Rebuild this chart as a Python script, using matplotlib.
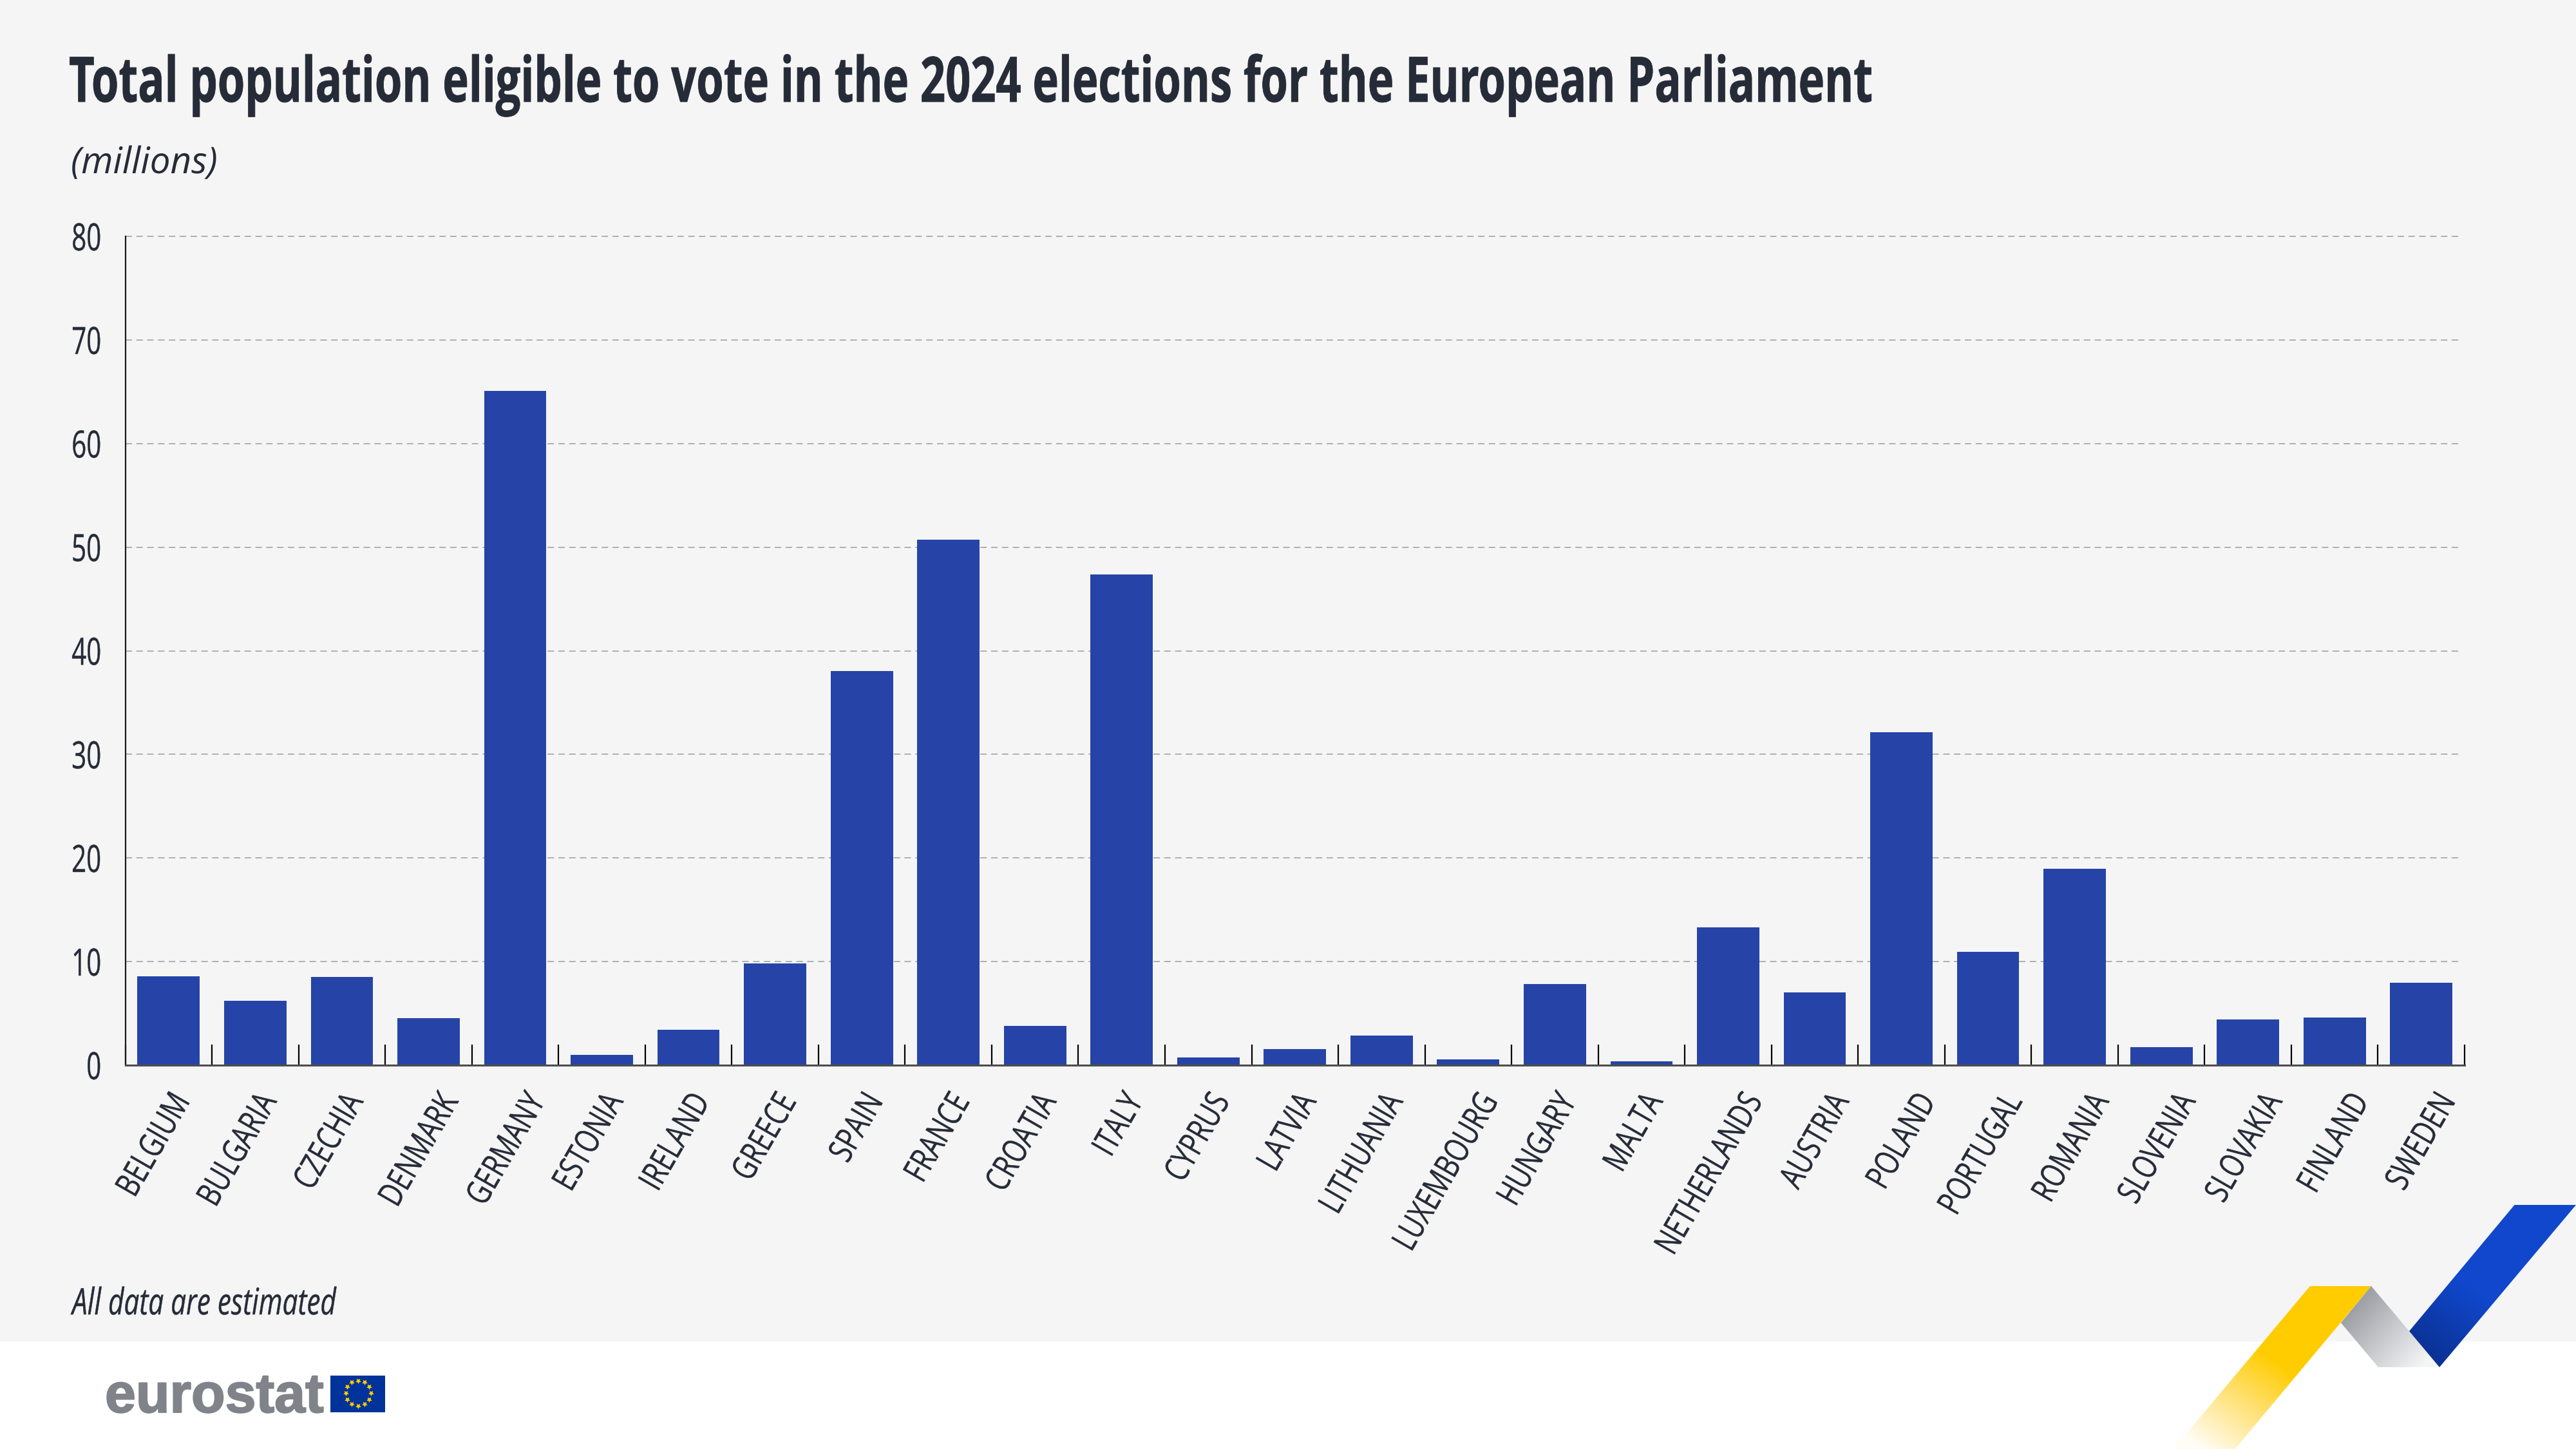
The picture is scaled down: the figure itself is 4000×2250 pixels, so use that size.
import numpy as np
import matplotlib
matplotlib.use("Agg")
import matplotlib.pyplot as plt
from matplotlib.patches import Polygon, Rectangle
from matplotlib.colors import LinearSegmentedColormap
from matplotlib.patheffects import AbstractPathEffect, withStroke
from matplotlib.transforms import Affine2D

countries = ["BELGIUM", "BULGARIA", "CZECHIA", "DENMARK", "GERMANY", "ESTONIA", "IRELAND",
             "GREECE", "SPAIN", "FRANCE", "CROATIA", "ITALY", "CYPRUS", "LATVIA", "LITHUANIA",
             "LUXEMBOURG", "HUNGARY", "MALTA", "NETHERLANDS", "AUSTRIA", "POLAND", "PORTUGAL",
             "ROMANIA", "SLOVENIA", "SLOVAKIA", "FINLAND", "SWEDEN"]
eligible_millions = [8.55, 6.19, 8.49, 4.53, 65.1, 0.99, 3.40, 9.81, 38.07, 50.7, 3.77, 47.35, 0.72,
                     1.55, 2.84, 0.54, 7.83, 0.39, 13.31, 7.04, 32.14, 10.91, 18.98, 1.72, 4.39,
                     4.58, 7.97]
y_ticks = [0, 10, 20, 30, 40, 50, 60, 70, 80]

TITLE = "Total population eligible to vote in the 2024 elections for the European Parliament"
UNIT = "(millions)"
NOTE = "All data are estimated"
LOGO = "eurostat"

INK = "#262b38"
BAR = "#2644a7"
FONT = ["Open Sans", "DejaVu Sans"]
W, H = 4000, 2250
CAP_UNITS = 71.4  # cap height of the font in text-path units


class TallText(AbstractPathEffect):
    """Stretch real text perpendicular to its baseline so that it reads as condensed."""

    def __init__(self, sy, pivot=0.0, stroke=0.0):
        super().__init__()
        self.sy = sy
        self.pivot = pivot
        self.stroke = stroke

    def draw_path(self, renderer, gc, tpath, affine, rgbFace=None):
        t = Affine2D().translate(0, -self.pivot).scale(1, self.sy).translate(0, self.pivot) + affine
        if self.stroke:
            gc.set_linewidth(self.stroke)
        renderer.draw_path(gc, tpath, t, rgbFace)


fig = plt.figure(figsize=(40, 22.5), dpi=100, facecolor="white")
renderer = fig.canvas.get_renderer()


def fit_width(text, target_px, stroke=0.0):
    ratio = target_px / text.get_window_extent(renderer).width
    text.set_fontsize(text.get_fontsize() * ratio)
    text.set_path_effects([TallText(1 / ratio, 0.0, stroke)])


# page layer in pixel coordinates
bg = fig.add_axes([0, 0, 1, 1], zorder=0)
bg.set_xlim(0, W)
bg.set_ylim(H, 0)
bg.axis("off")
bg.add_patch(Rectangle((0, 0), W, 2083, facecolor="#f5f5f5", edgecolor="none", zorder=0))


def ribbon(pts, colors, angle_from, angle_to, stops=None):
    xs = [p[0] for p in pts]
    ys = [p[1] for p in pts]
    x0, x1, y0, y1 = min(xs), max(xs), min(ys), max(ys)
    gx, gy = np.meshgrid(np.linspace(x0, x1, 300), np.linspace(y0, y1, 300))
    (ax_, ay_), (bx_, by_) = angle_from, angle_to
    t = ((gx - ax_) * (bx_ - ax_) + (gy - ay_) * (by_ - ay_)) / ((bx_ - ax_) ** 2 + (by_ - ay_) ** 2)
    t = np.clip(t, 0, 1)
    if stops is None:
        cmap = LinearSegmentedColormap.from_list("r", colors)
    else:
        cmap = LinearSegmentedColormap.from_list("r", list(zip(stops, colors)))
    im = bg.imshow(t, extent=(x0, x1, y1, y0), cmap=cmap, vmin=0, vmax=1, aspect="auto",
                   zorder=2, interpolation="bilinear")
    clip = Polygon(pts, closed=True, transform=bg.transData, facecolor="none", edgecolor="none")
    bg.add_patch(clip)
    im.set_clip_path(clip)


ribbon([(3587, 1997), (3682, 1997), (3470.5, 2250), (3375, 2250)],
       ["#ffcc00", "#ffcc00", "#ffe27a", "#fffdf5"], (3600, 2000), (3420, 2250), [0, 0.42, 0.7, 1])
ribbon([(3682, 1997), (3741, 2067), (3788, 2123), (3693, 2123), (3635, 2054)],
       ["#9a9da2", "#c9cbcf", "#f5f6f6"], (3650, 2030), (3760, 2125))
ribbon([(3904.5, 1871), (4000, 1871), (3788, 2123), (3741, 2067)],
       ["#1047cc", "#1047cc", "#0a2f8c"], (3950, 1871), (3765, 2123), [0, 0.55, 1])
bg.set_xlim(0, W)
bg.set_ylim(H, 0)

# logo
logo = bg.text(163, 2193, LOGO, family="Liberation Sans", weight="bold", fontsize=62, color="#808389",
               ha="left", va="baseline", zorder=3)
logo.set_path_effects([withStroke(linewidth=1.5, foreground="#808389")])
bg.add_patch(Rectangle((513, 2136), 85, 57, facecolor="#003399", edgecolor="none", zorder=3))
star_angles = np.deg2rad(np.arange(0, 360, 30))
bg.scatter(556 + 19.5 * np.cos(star_angles), 2163 + 19.5 * np.sin(star_angles), marker=(5, 1, 180),
           s=42, color="#ffcc00", linewidths=0, zorder=4)

# page texts
title = bg.text(107, 158, TITLE, family=FONT, weight="bold", fontsize=70, color=INK,
                ha="left", va="baseline", zorder=3)
fit_width(title, 2803, stroke=0.6)
unit = bg.text(110, 269, UNIT, family=FONT, style="italic", fontsize=41, color=INK,
               ha="left", va="baseline", zorder=3)
fit_width(unit, 228)
note = bg.text(112, 2041, NOTE, family=FONT, style="italic", fontsize=41, color=INK,
               ha="left", va="baseline", zorder=3)
fit_width(note, 410, stroke=0.3)

# chart
left, right, zero, top = 194.6, 3827, 1654, 367
ax = fig.add_axes([left / W, (H - zero) / H, (right - left) / W, (zero - top) / H], zorder=1)
ax.patch.set_alpha(0)
x = np.arange(len(countries))
ax.set_xlim(-0.5, len(countries) - 0.5)
ax.set_ylim(0, 80)
ax.hlines(y_ticks[1:], -0.5, len(countries) - 0.55, colors="#b0b0b0", linewidth=1.44,
          linestyles=(0, (5, 3.4)), zorder=1, clip_on=False)
ax.bar(x, eligible_millions, width=0.72, color=BAR, edgecolor="none", zorder=2)

for s in ("top", "right"):
    ax.spines[s].set_visible(False)
ax.spines["left"].set_color("#1a1a1a")
ax.spines["left"].set_linewidth(1.6)
ax.spines["bottom"].set_color("#4d4d4d")
ax.spines["bottom"].set_linewidth(2.2)

ax.set_yticks(y_ticks)
ax.set_yticklabels([str(v) for v in y_ticks], family=FONT, fontsize=42 * 0.69, color=INK)
ax.tick_params(axis="y", length=0, pad=27)
for lab in ax.get_yticklabels():
    lab.set_path_effects([TallText(1 / 0.69, CAP_UNITS / 2, 0.3)])

ax.set_xticks(x)
ax.set_xticklabels(countries, rotation=60, ha="right", va="top", rotation_mode="anchor",
                   family=FONT, fontsize=38 * 0.76, color=INK)
ax.tick_params(axis="x", which="major", length=0, pad=26)
for i, lab in enumerate(ax.get_xticklabels()):
    lab.set_path_effects([TallText(1 / 0.76, CAP_UNITS, 0.3)])
    # the reference's labels drift right towards the end of the axis
    if i >= 18:
        lab.set_transform(lab.get_transform() + Affine2D().translate(20, 0))
    elif countries[i] in ("DENMARK", "GERMANY", "LUXEMBOURG"):
        lab.set_transform(lab.get_transform() + Affine2D().translate(13, 0))
ax.set_xticks(np.arange(-0.5, len(countries)), minor=True)
ax.tick_params(axis="x", which="minor", direction="in", length=23, width=1.6, color="black")

fig.savefig("out.png", dpi=100, facecolor="white")
